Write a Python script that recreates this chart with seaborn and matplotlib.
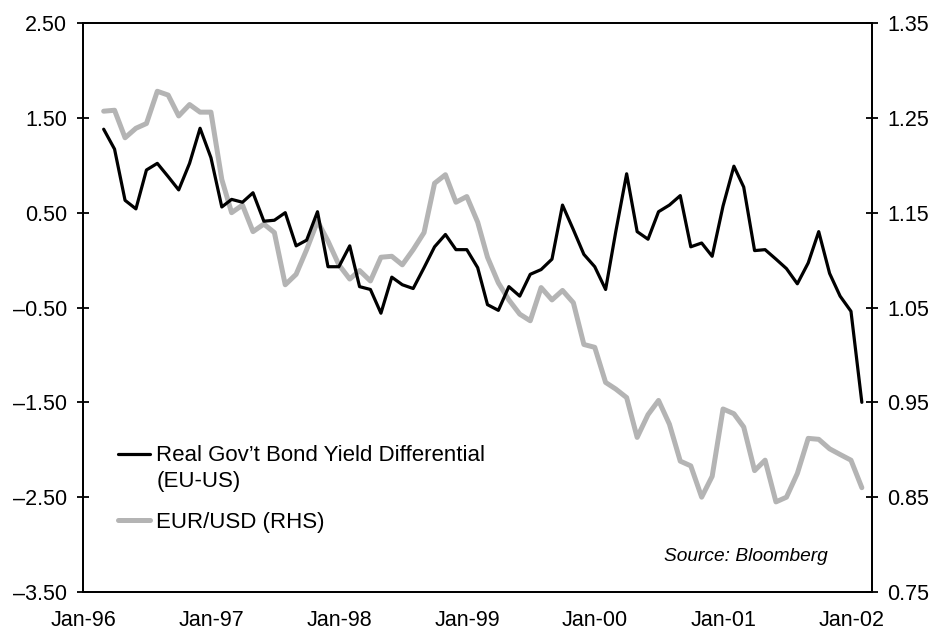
import numpy as np
import pandas as pd
import matplotlib
matplotlib.use("Agg")
import matplotlib.pyplot as plt
import matplotlib.ticker as mticker
import seaborn as sns

# Monthly observations, Feb-96 .. Jan-02 (month end)
months = pd.date_range("1996-02-01", periods=72, freq="MS") + pd.offsets.MonthEnd(0)

# Real government bond yield differential EU-US (LHS, %)
yield_diff = [
    1.38, 1.17, 0.63, 0.54, 0.95, 1.02, 0.88, 0.74, 1.02, 1.39, 1.08, 0.56,
    0.64, 0.61, 0.71, 0.41, 0.42, 0.50, 0.15, 0.21, 0.51, -0.07, -0.07, 0.15,
    -0.28, -0.31, -0.56, -0.18, -0.26, -0.30, -0.08, 0.14, 0.27, 0.11, 0.11, -0.08,
    -0.47, -0.53, -0.28, -0.38, -0.15, -0.10, 0.01, 0.58, 0.32, 0.06, -0.07, -0.31,
    0.30, 0.91, 0.30, 0.22, 0.51, 0.58, 0.68, 0.14, 0.18, 0.04, 0.57, 0.99,
    0.77, 0.10, 0.11, 0.01, -0.09, -0.25, -0.03, 0.30, -0.14, -0.38, -0.54, -1.50,
]

# EUR/USD (RHS)
eurusd = [
    1.257, 1.258, 1.229, 1.239, 1.244, 1.278, 1.274, 1.252, 1.264, 1.256, 1.256, 1.185,
    1.150, 1.158, 1.130, 1.138, 1.129, 1.074, 1.085, 1.111, 1.141, 1.120, 1.095, 1.080,
    1.089, 1.078, 1.103, 1.104, 1.095, 1.111, 1.129, 1.181, 1.190, 1.161, 1.167, 1.140,
    1.103, 1.076, 1.058, 1.043, 1.036, 1.071, 1.058, 1.068, 1.055, 1.011, 1.008, 0.971,
    0.964, 0.955, 0.913, 0.937, 0.952, 0.927, 0.888, 0.883, 0.850, 0.872, 0.943, 0.938,
    0.924, 0.878, 0.889, 0.845, 0.850, 0.875, 0.912, 0.911, 0.901, 0.895, 0.889, 0.860,
]

x_labels = ["Jan-96", "Jan-97", "Jan-98", "Jan-99", "Jan-00", "Jan-01", "Jan-02"]
left_ticks = [-3.5, -2.5, -1.5, -0.5, 0.5, 1.5, 2.5]
right_ticks = [0.75, 0.85, 0.95, 1.05, 1.15, 1.25, 1.35]
series_labels = ["Real Gov\u2019t Bond Yield Differential", "EUR/USD (RHS)"]

df = pd.DataFrame({"date": months, "yield_diff": yield_diff, "eurusd": eurusd})

sns.set_style("ticks")
plt.rcParams["font.family"] = ["Liberation Sans", "DejaVu Sans"]
plt.rcParams["text.color"] = "black"
FS = 15.5
LEG_FS = 16

fig = plt.figure(figsize=(9.35, 6.36), dpi=100)
ax = fig.add_axes([83 / 935, 44 / 636, 789 / 935, 569 / 636])
ax2 = ax.twinx()

sns.lineplot(data=df, x="date", y="eurusd", ax=ax2, color="#b4b4b4", lw=3.6,
             errorbar=None, legend=False)
sns.lineplot(data=df, x="date", y="yield_diff", ax=ax, color="black", lw=2.3,
             errorbar=None, legend=False)

# keep the black series on top of the grey one
ax.set_zorder(ax2.get_zorder() + 1)
ax.patch.set_visible(False)

ax.set_ylim(-3.5, 2.5)
ax2.set_ylim(0.75, 1.35)
ax.set_xlim(pd.Timestamp("1996-01-02"), pd.Timestamp("2002-03-01"))

fmt = mticker.FuncFormatter(lambda v, p: f"{v:.2f}".replace("-", "\u2013"))
ax.set_yticks(left_ticks)
ax.yaxis.set_major_formatter(fmt)
ax2.set_yticks(right_ticks)
ax2.yaxis.set_major_formatter(mticker.FuncFormatter(lambda v, p: f"{v:.2f}"))

year_starts = pd.date_range("1996-01-01", periods=len(x_labels), freq="YS")
ax.set_xticks(year_starts)
ax.set_xticklabels(x_labels)

for a in (ax, ax2):
    a.set_xlabel("")
    a.set_ylabel("")
    for sp in a.spines.values():
        sp.set_visible(True)
        sp.set_color("black")
        sp.set_linewidth(1.3)

ax.tick_params(axis="y", direction="inout", length=8.5, width=1.3, pad=7,
               labelsize=FS, colors="black")
ax.tick_params(axis="x", length=0, pad=13, labelsize=FS, colors="black")
ax2.tick_params(axis="y", direction="inout", length=8.5, width=1.3, pad=7,
                labelsize=FS, colors="black")

leg = ax.legend([ax.lines[0], ax2.lines[0]], series_labels,
                loc="upper left", bbox_to_anchor=(0.044, 0.2576),
                frameon=False, fontsize=LEG_FS, labelcolor="black",
                handlelength=1.45, handletextpad=0.28, labelspacing=2.05,
                borderpad=0, borderaxespad=0)
ax.annotate("(EU-US)", xy=(0, 0), xycoords=leg.get_texts()[0],
            xytext=(0, -3.5), textcoords="offset points",
            ha="left", va="top", fontsize=LEG_FS, color="black", zorder=6)

ax.text(0.944, 0.063, "Source: Bloomberg", transform=ax.transAxes,
        ha="right", va="center", fontsize=13.8, style="italic", color="black")

fig.canvas.draw()
fig.savefig("out.png", dpi=100)
